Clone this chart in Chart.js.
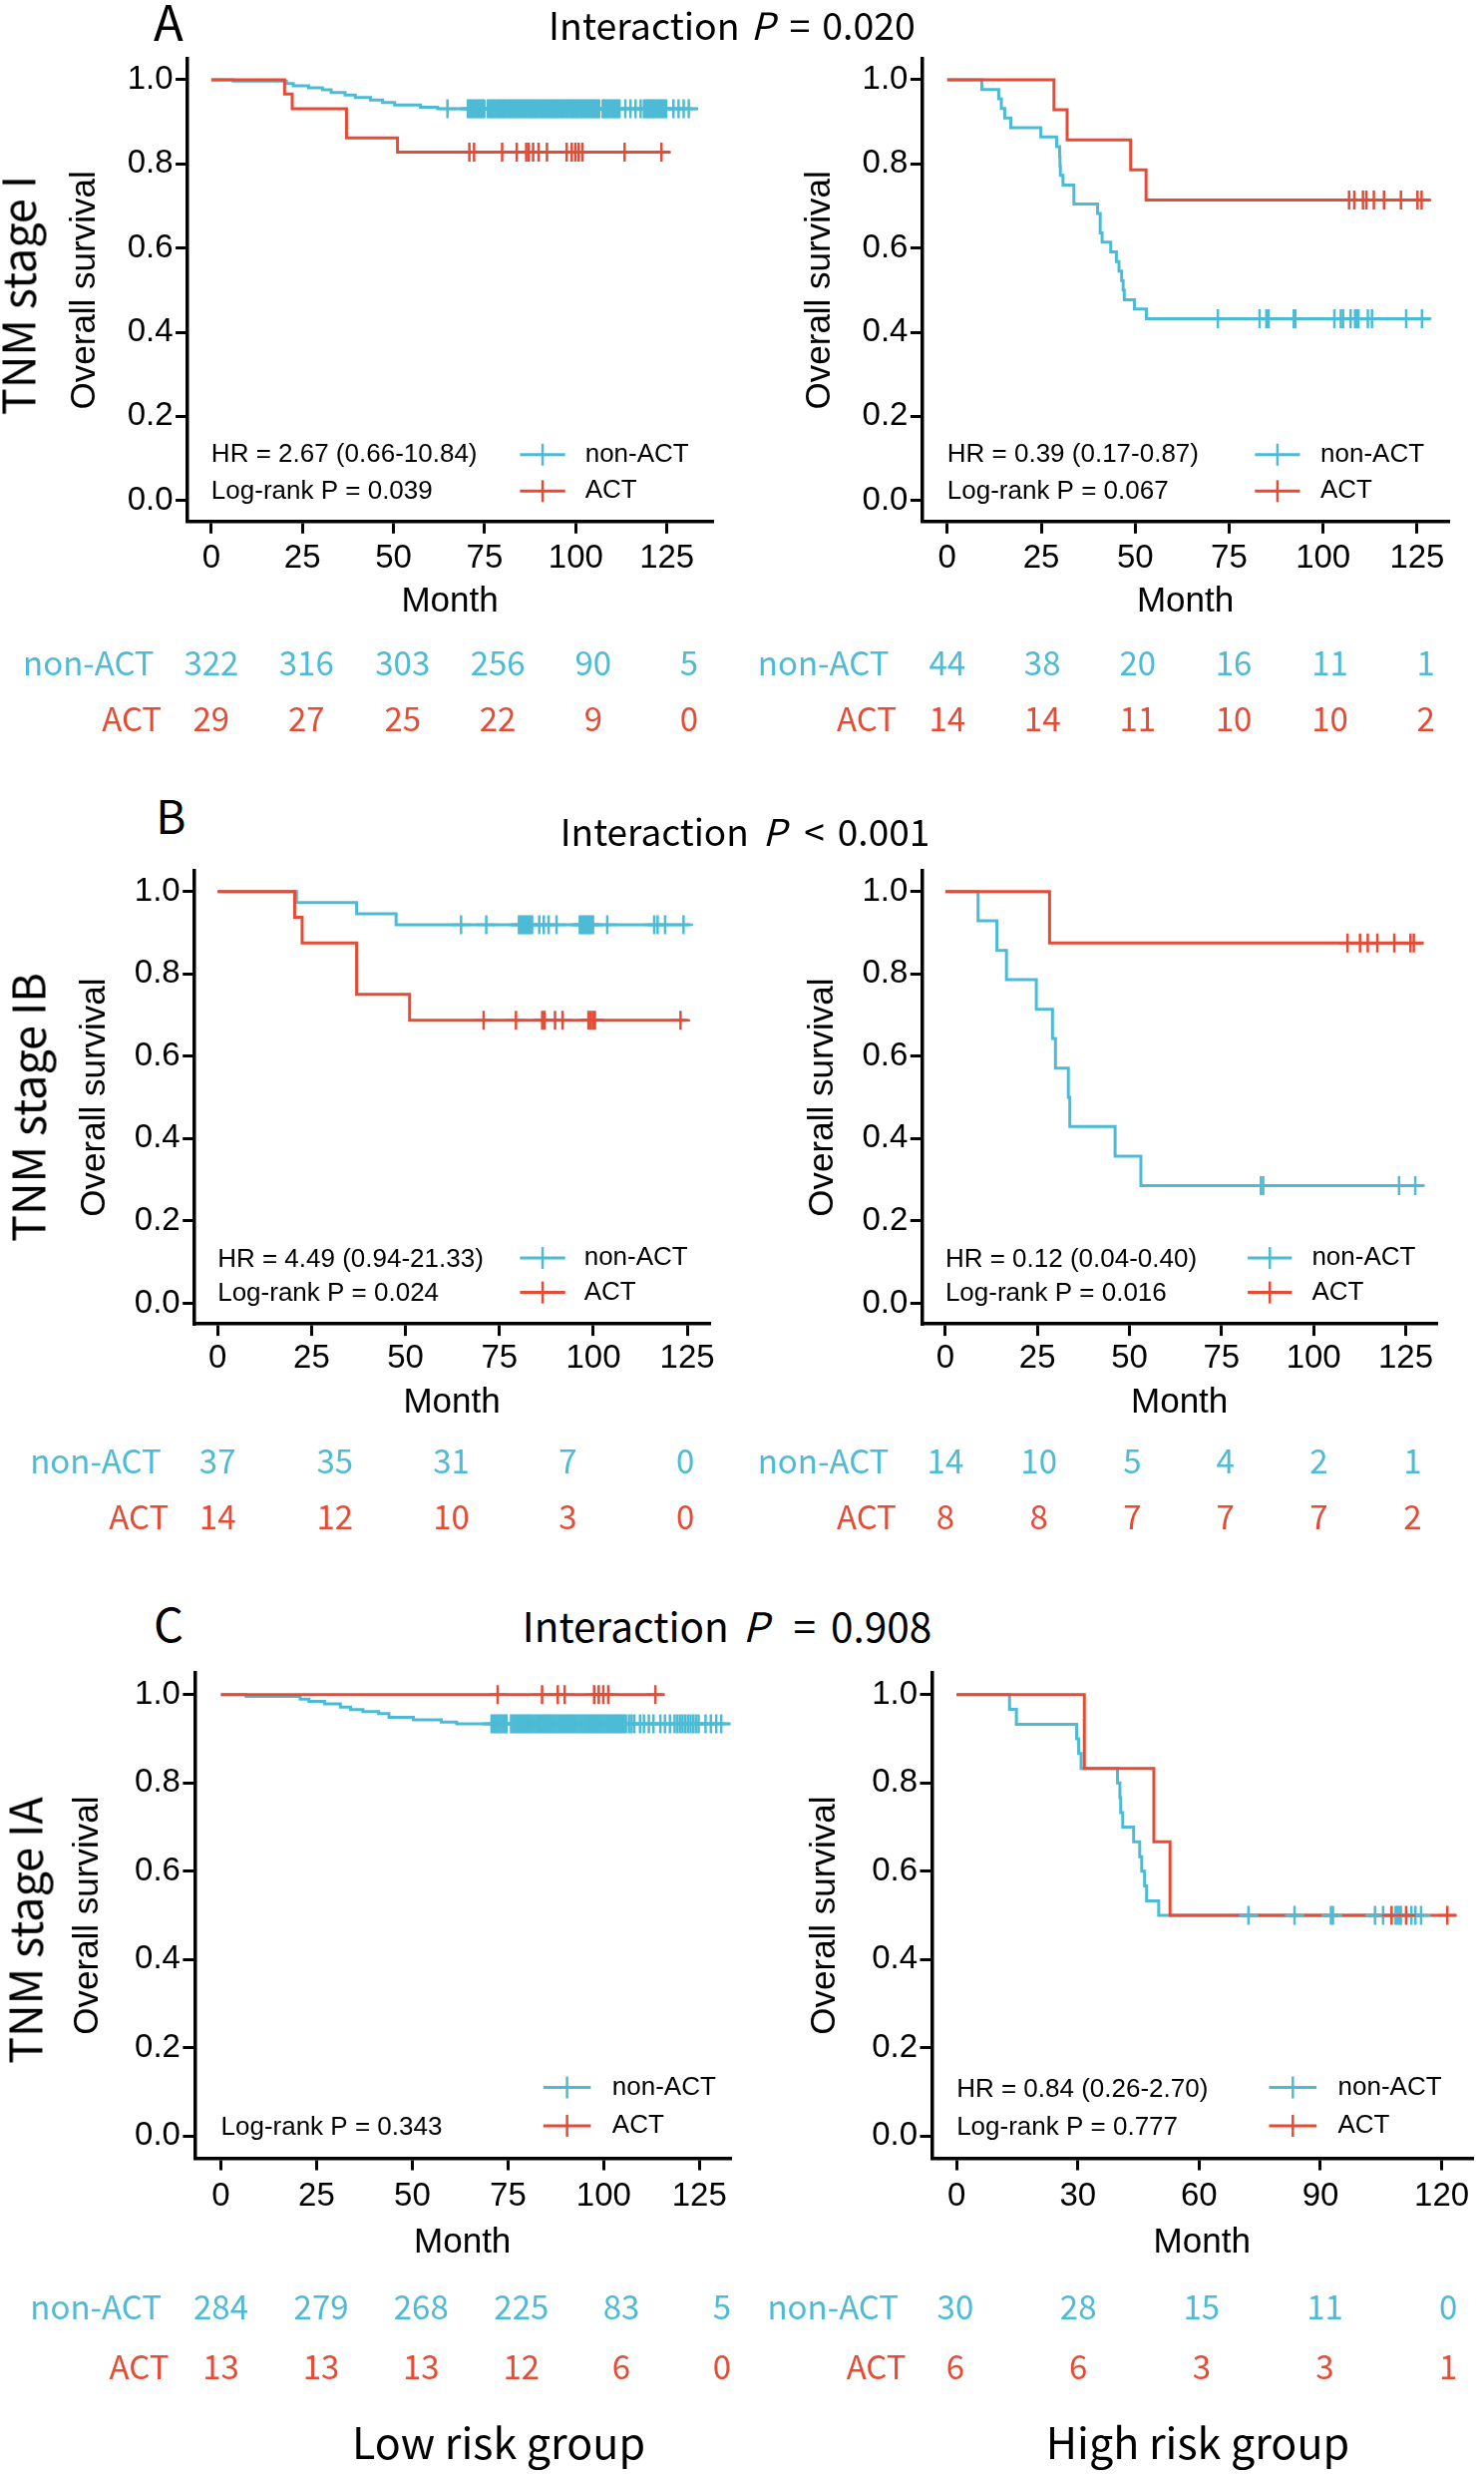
<!DOCTYPE html>
<html>
<head>
<meta charset="utf-8">
<script src="https://cdn.jsdelivr.net/npm/chart.js@4.4.0/dist/chart.umd.min.js"></script>
<style>
  html, body { margin: 0; padding: 0; background: #fff; }
  #page { position: relative; width: 1488px; height: 2480px; overflow: hidden; background: #fff; }
  canvas { position: absolute; }
  .lbl { position: absolute; font-family: 'Noto Sans CJK SC', 'Noto Sans', sans-serif; color: #000; line-height: 1; white-space: pre; }
  .lbl i { display: inline-block; }
  .lbl span { display: inline-block; }
</style>
</head>
<body>
<div id="page"></div>
<script>
const BLUE = '#4DBBD5';
const RED = '#E64B35';

const ticks125 = [0, 25, 50, 75, 100, 125];
const ticks120 = [0, 30, 60, 90, 120];
const yTicks = [0, 0.2, 0.4, 0.6, 0.8, 1.0];

// A - low risk (TNM stage I)
const aLowNonActT = [0, 6.0, 20.6, 22.5, 26.7, 30.5, 32.9, 36.7, 39.5, 43.7, 47.0, 50.3, 57.4, 62.1, 133.4];
const aLowNonActS = [1, 0.997, 0.991, 0.986, 0.981, 0.976, 0.970, 0.964, 0.958, 0.952, 0.946, 0.940, 0.935, 0.931, 0.931];
const aLowNonActC = [64.8,
  70.4, 70.9, 71.4, 71.9, 72.4, 72.9, 73.4, 73.9, 74.4, 74.9,
  75.9, 76.4, 76.9, 77.4, 77.9, 78.4, 78.9, 79.4, 79.9, 80.4, 80.9, 81.4, 81.9, 82.4, 82.9, 83.4, 83.9, 84.4,
  84.9, 85.4, 85.9, 86.4, 86.9, 87.4, 87.9, 88.4, 88.9, 89.4, 89.9, 90.4, 90.9, 91.4, 91.9, 92.4, 92.9, 93.4,
  93.9, 94.4, 94.9, 95.4, 95.9, 96.4, 96.9, 97.4, 97.9, 98.4, 98.9, 99.4, 99.9, 100.4, 100.9, 101.4, 101.9,
  102.4, 102.9, 103.4, 103.9, 104.4, 104.9, 105.4, 105.9, 106.4,
  107.4, 107.9, 108.4, 108.9, 109.4, 109.9, 110.4, 110.9, 111.4, 112.0,
  113.6, 115.0, 116.4, 117.8,
  118.7, 119.2, 119.7, 120.2, 120.7, 121.2, 121.7, 122.2, 122.7, 123.2, 123.7, 124.2, 124.8,
  126.8, 128.2, 129.6, 131.0];
const aLowActT = [0, 20.1, 22.2, 37.1, 51.1, 125.8];
const aLowActS = [1, 0.966, 0.931, 0.862, 0.828, 0.828];
const aLowActC = [70.8, 72.1, 79.8, 83.8, 86.4, 87.1, 88.3, 89.8, 92.1, 97.5, 98.9, 99.9, 100.8, 101.8, 113.4, 123.5];
const aLowRiskAt = [0, 26.1, 52.5, 78.6, 104.8, 131.1];
const aLowRiskNonAct = [322, 316, 303, 256, 90, 5];
const aLowRiskAct = [29, 27, 25, 22, 9, 0];

// A - high risk
const aHighNonActT = [0, 9.2, 13.7, 14.4, 15.3, 16.9, 24.9, 29.1, 29.9, 30.0, 30.1, 30.8, 33.7, 40.0, 40.7, 41.2, 43.5, 45.0, 45.7, 46.4, 46.8, 47.1, 49.8, 53.0, 128.4];
const aHighNonActS = [1, 0.977, 0.955, 0.932, 0.909, 0.886, 0.864, 0.841, 0.818, 0.795, 0.773, 0.750, 0.705, 0.682, 0.636, 0.614, 0.591, 0.568, 0.545, 0.523, 0.500, 0.477, 0.455, 0.432, 0.432];
const aHighNonActC = [72.0, 83.1, 84.9, 85.5, 92.2, 92.6, 103.0, 104.7, 105.3, 107.3, 108.5, 109.1, 109.4, 111.9, 113.0, 122.1, 126.3];
const aHighActT = [0, 28.4, 31.9, 48.8, 52.9, 128.4];
const aHighActS = [1, 0.929, 0.857, 0.786, 0.714, 0.714];
const aHighActC = [106.9, 108.3, 110.6, 111.5, 113.5, 116.2, 120.7, 125.1, 126.2];
const aHighRiskAt = [0, 25.3, 50.7, 76.2, 101.8, 127.3];
const aHighRiskNonAct = [44, 38, 20, 16, 11, 1];
const aHighRiskAct = [14, 14, 11, 10, 10, 2];

// B - low risk (TNM stage IB)
const bLowNonActT = [0, 21.0, 37.0, 47.5, 125.7];
const bLowNonActS = [1, 0.973, 0.946, 0.919, 0.919];
const bLowNonActC = [64.8, 71.5, 80.2, 80.7, 81.2, 81.7, 82.2, 82.7, 83.2, 83.7, 85.6, 86.8, 88.1, 90.2,
  96.4, 96.9, 97.4, 97.9, 98.4, 98.9, 99.4, 99.9, 103.7, 116.2, 117.1, 119.1, 124.0];
const bLowActT = [0, 20.5, 22.5, 37.0, 51.1, 125.0];
const bLowActS = [1, 0.9375, 0.875, 0.75, 0.6875, 0.6875];
const bLowActC = [70.8, 79.4, 86.4, 87.0, 89.8, 91.8, 98.7, 99.3, 99.9, 100.4, 123.2];
const bLowRiskAt = [0, 31.2, 62.2, 93.2, 124.5];
const bLowRiskNonAct = [37, 35, 31, 7, 0];
const bLowRiskAct = [14, 12, 10, 3, 0];

// B - high risk
const bHighNonActT = [0, 8.9, 14.0, 16.6, 24.7, 29.1, 29.9, 33.4, 33.8, 46.1, 53.1, 129.9];
const bHighNonActS = [1, 0.929, 0.857, 0.786, 0.714, 0.643, 0.571, 0.5, 0.429, 0.357, 0.286, 0.286];
const bHighNonActC = [85.7, 86.3, 123.2, 127.6];
const bHighActT = [0, 28.3, 129.9];
const bHighActS = [1, 0.875, 0.875];
const bHighActC = [109.2, 112.6, 114.7, 117.3, 121.9, 126.3, 127.2];
const bHighRiskAt = [0, 25.4, 50.8, 76.0, 101.4, 126.9];
const bHighRiskNonAct = [14, 10, 5, 4, 2, 1];
const bHighRiskAct = [8, 8, 7, 7, 7, 2];

// C - low risk (TNM stage IA)
const cLowNonActT = [0, 6.6, 20.7, 23.0, 27.1, 31.2, 33.9, 37.1, 41.2, 43.9, 50.3, 57.6, 61.6, 133.0];
const cLowNonActS = [1, 0.9965, 0.990, 0.985, 0.979, 0.972, 0.966, 0.962, 0.957, 0.949, 0.943, 0.938, 0.934, 0.934];
const cLowNonActC = [70.7, 71.2, 71.7, 72.2, 72.7, 73.2, 73.7, 74.2, 74.6,
  75.8, 76.3, 76.8, 77.3, 77.8, 78.3, 78.8, 79.3, 79.8, 80.3, 80.8, 81.3, 81.8, 82.3, 82.8, 83.3, 83.8, 84.3,
  84.8, 85.3, 85.8, 86.3, 86.8, 87.3, 87.8, 88.3, 88.8, 89.3, 89.8, 90.3, 90.8, 91.3, 91.8, 92.3, 92.8, 93.3,
  93.8, 94.3, 94.8, 95.3, 95.8, 96.3, 96.8, 97.3, 97.8, 98.3, 98.8, 99.3, 99.8, 100.3, 100.8, 101.3, 101.8,
  102.3, 102.8, 103.3, 103.8, 104.3, 104.8, 105.3, 105.8,
  106.6, 107.3, 108.0, 109.5, 110.5, 111.8, 113.0, 114.8, 116.0, 117.3,
  118.5, 119.2, 119.9, 120.6, 121.3, 122.0, 122.7, 123.4, 124.1, 124.8,
  126.6, 128.0, 129.4, 130.7];
const cLowActT = [0, 115.7];
const cLowActS = [1, 1];
const cLowActC = [72.3, 83.9, 88.0, 89.8, 97.5, 98.7, 99.9, 101.2, 113.5];
const cLowRiskAt = [0, 26.2, 52.3, 78.5, 104.6, 130.9];
const cLowRiskNonAct = [284, 279, 268, 225, 83, 5];
const cLowRiskAct = [13, 13, 13, 12, 6, 0];

// C - high risk
const cHighNonActT = [0, 13.1, 14.8, 29.7, 30.2, 30.8, 39.8, 40.4, 40.6, 41.1, 43.8, 45.3, 45.8, 46.5, 47.0, 50.0, 114.9];
const cHighNonActS = [1, 0.967, 0.933, 0.9, 0.867, 0.833, 0.8, 0.767, 0.733, 0.7, 0.667, 0.633, 0.6, 0.567, 0.533, 0.5, 0.5];
const cHighNonActC = [72.2, 83.6, 92.6, 93.1, 103.5, 105.5, 108.6, 109.0, 109.5, 109.9, 112.5, 113.5, 114.9];
const cHighActT = [0, 31.6, 48.8, 52.8, 123.5];
const cHighActS = [1, 0.833, 0.667, 0.5, 0.5];
const cHighActC = [107.6, 111.2, 121.4];
const cHighRiskAt = [-0.3, 30.1, 60.6, 91.1, 121.6];
const cHighRiskNonAct = [30, 28, 15, 11, 0];
const cHighRiskAct = [6, 6, 3, 3, 1];

const page = document.getElementById('page');
const AXIS_TITLE = 35;

const panels = [
  { box: {x: 0, y: 40, w: 744, h: 720}, area: {l: 188.1, r: 714.0, t: 58.9, b: 522.8},
    yTitleX: 85.5, xTitleY: 603, xMin: -6.5, xMax: 137.4, xTicks: ticks125, tickPad: 8.2,
    nonAct: [aLowNonActT, aLowNonActS, aLowNonActC], act: [aLowActT, aLowActS, aLowActC],
    stats: ['HR = 2.67 (0.66-10.84)', 'Log-rank P = 0.039'], statRows: [-67, -30],
    legX: [-192.6, -147.3, -127.3], legRows: [-67, -30.5],
    riskAt: aLowRiskAt, riskNonAct: aLowRiskNonAct, riskAct: aLowRiskAct, riskRows: [141.2, 197.2] },
  { box: {x: 744, y: 40, w: 744, h: 720}, area: {l: 924.9, r: 1452.2, t: 58.9, b: 522.8},
    yTitleX: 822.6, xTitleY: 603.5, xMin: -6.6, xMax: 133.3, xTicks: ticks125, tickPad: 8.2,
    nonAct: [aHighNonActT, aHighNonActS, aHighNonActC], act: [aHighActT, aHighActS, aHighActC],
    stats: ['HR = 0.39 (0.17-0.87)', 'Log-rank P = 0.067'], statRows: [-67, -30],
    legX: [-193.9, -148.7, -128.2], legRows: [-67, -30.5],
    riskAt: aHighRiskAt, riskNonAct: aHighRiskNonAct, riskAct: aHighRiskAct, riskRows: [141.2, 197.2] },
  { box: {x: 0, y: 850, w: 744, h: 710}, area: {l: 195.2, r: 711.0, t: 873, b: 1327.1},
    yTitleX: 95.2, xTitleY: 1406, xMin: -6.1, xMax: 130.8, xTicks: ticks125, tickPad: 6.2,
    nonAct: [bLowNonActT, bLowNonActS, bLowNonActC], act: [bLowActT, bLowActS, bLowActC],
    stats: ['HR = 4.49 (0.94-21.33)', 'Log-rank P = 0.024'], statRows: [-64, -30],
    legX: [-189.6, -144.3, -125.3], legRows: [-66, -31.5],
    riskAt: bLowRiskAt, riskNonAct: bLowRiskNonAct, riskAct: bLowRiskAct, riskRows: [136.9, 192.9] },
  { box: {x: 744, y: 850, w: 744, h: 710}, area: {l: 924.8, r: 1440.5, t: 873, b: 1327.1},
    yTitleX: 825, xTitleY: 1406, xMin: -6.25, xMax: 133.4, xTicks: ticks125, tickPad: 6.2,
    nonAct: [bHighNonActT, bHighNonActS, bHighNonActC], act: [bHighActT, bHighActS, bHighActC],
    stats: ['HR = 0.12 (0.04-0.40)', 'Log-rank P = 0.016'], statRows: [-64, -30],
    legX: [-189.4, -145.1, -125.1], legRows: [-66, -31.5],
    riskAt: bHighRiskAt, riskNonAct: bHighRiskNonAct, riskAct: bHighRiskAct, riskRows: [136.9, 192.9] },
  { box: {x: 0, y: 1660, w: 744, h: 760}, area: {l: 195.4, r: 733.9, t: 1676.7, b: 2163.5},
    yTitleX: 88.1, xTitleY: 2248.8, xMin: -6.8, xMax: 133, xTicks: ticks125, tickPad: 10.3,
    nonAct: [cLowNonActT, cLowNonActS, cLowNonActC], act: [cLowActT, cLowActS, cLowActC],
    stats: ['Log-rank P = 0.343'], statRows: [-31],
    legX: [-187.2, -139.6, -118.2], legRows: [-71, -32.5],
    riskAt: cLowRiskAt, riskNonAct: cLowRiskNonAct, riskAct: cLowRiskAct, riskRows: [148.5, 208.5] },
  { box: {x: 744, y: 1660, w: 744, h: 760}, area: {l: 934.5, r: 1488, t: 1676.7, b: 2163.5},
    yTitleX: 827.3, xTitleY: 2248.8, xMin: -6.08, xMax: 127.5, xTicks: ticks120, tickPad: 10.3,
    nonAct: [cHighNonActT, cHighNonActS, cHighNonActC], act: [cHighActT, cHighActS, cHighActC],
    stats: ['HR = 0.84 (0.26-2.70)', 'Log-rank P = 0.777'], statRows: [-68.6, -30.7],
    legX: [-203.5, -155.9, -134.5], legRows: [-71, -32.5],
    riskAt: cHighRiskAt, riskNonAct: cHighRiskNonAct, riskAct: cHighRiskAct, riskRows: [148.5, 208.5] }
];

const survAt = (t, s, time) => {
  let v = s[0];
  t.forEach((tt, i) => { if (tt <= time) v = s[i]; });
  return v;
};

const curve = ([t, s], color) => ({
  data: t.map((x, i) => ({x, y: s[i]})),
  showLine: true, stepped: true, borderColor: color, borderWidth: 3,
  pointRadius: 0, clip: false
});

const marks = ([t, s, c], color) => ({
  data: c.map(x => ({x, y: survAt(t, s, x)})),
  showLine: false, pointStyle: 'cross', pointRadius: 9.5,
  borderColor: color, pointBorderColor: color, pointBorderWidth: 2.5, clip: false
});

const extras = (p) => ({
  id: 'extras',
  afterDraw(chart) {
    const {ctx, chartArea: ca, scales: {x}} = chart;
    ctx.save();
    ctx.textBaseline = 'middle';
    ctx.font = '26px "Liberation Sans", Arial, sans-serif';
    ctx.fillStyle = '#000';
    ctx.textAlign = 'left';
    const x0 = x.getPixelForValue(0);
    p.stats.forEach((txt, i) => ctx.fillText(txt, x0, ca.bottom + p.statRows[i]));

    [[BLUE, 'non-ACT'], [RED, 'ACT']].forEach(([col, name], i) => {
      const y = ca.bottom + p.legRows[i];
      const a = ca.right + p.legX[0], b = ca.right + p.legX[1];
      ctx.strokeStyle = col;
      ctx.lineWidth = 3;
      ctx.beginPath(); ctx.moveTo(a, y); ctx.lineTo(b, y); ctx.stroke();
      ctx.lineWidth = 2.5;
      ctx.beginPath(); ctx.moveTo((a + b) / 2, y - 11); ctx.lineTo((a + b) / 2, y + 11); ctx.stroke();
      ctx.fillStyle = '#000';
      ctx.fillText(name, ca.right + p.legX[2], y);
    });

    ctx.font = '33px "Noto Sans CJK SC", "Noto Sans", sans-serif';
    [[BLUE, 'non-ACT', p.riskNonAct, -33.5], [RED, 'ACT', p.riskAct, -26]].forEach(([col, name, vals, dx], i) => {
      const y = ca.bottom + p.riskRows[i];
      ctx.fillStyle = col;
      ctx.textAlign = 'right';
      ctx.fillText(name, ca.left + dx, y);
      ctx.textAlign = 'center';
      vals.forEach((v, j) => ctx.fillText(String(v), x.getPixelForValue(p.riskAt[j]), y));
    });
    ctx.restore();
  }
});

const buildPanel = (p) => {
  const canvas = document.createElement('canvas');
  canvas.width = p.box.w;
  canvas.height = p.box.h;
  canvas.style.left = p.box.x + 'px';
  canvas.style.top = p.box.y + 'px';
  page.appendChild(canvas);

  const yScaleLeft = p.yTitleX - AXIS_TITLE / 2;
  const yWidth = p.area.l - yScaleLeft;
  const xScaleBottom = p.xTitleY + AXIS_TITLE / 2;
  const xHeight = xScaleBottom - p.area.b;
  const tickFont = {family: '"Liberation Sans", Arial, sans-serif', size: 33, lineHeight: 1};
  const titleFont = {family: '"Liberation Sans", Arial, sans-serif', size: AXIS_TITLE, lineHeight: 1};
  const grid = {display: true, drawOnChartArea: false, drawTicks: true, tickLength: 12, color: '#000', lineWidth: 3};
  const border = {display: true, color: '#000', width: 3.5};

  new Chart(canvas, {
    type: 'scatter',
    data: {
      datasets: [
        marks(p.act, RED),
        marks(p.nonAct, BLUE),
        curve(p.act, RED),
        curve(p.nonAct, BLUE)
      ]
    },
    options: {
      responsive: false,
      animation: false,
      devicePixelRatio: 1,
      layout: {
        padding: {
          left: yScaleLeft - p.box.x,
          top: p.area.t - p.box.y,
          right: p.box.x + p.box.w - p.area.r,
          bottom: p.box.y + p.box.h - xScaleBottom
        }
      },
      plugins: { legend: {display: false}, tooltip: {enabled: false} },
      scales: {
        x: {
          type: 'linear', min: p.xMin, max: p.xMax,
          afterBuildTicks: s => { s.ticks = p.xTicks.map(v => ({value: v})); },
          afterFit: s => { s.height = xHeight; s.paddingLeft = 0; s.paddingRight = 0; },
          ticks: {color: '#000', font: tickFont, padding: p.tickPad, maxRotation: 0, autoSkip: false},
          grid, border,
          title: {display: true, text: 'Month', color: '#000', font: titleFont, padding: 0}
        },
        y: {
          type: 'linear', min: -0.05, max: 1.05,
          afterBuildTicks: s => { s.ticks = yTicks.map(v => ({value: v})); },
          afterFit: s => { s.width = yWidth; s.paddingTop = 0; s.paddingBottom = 0; },
          ticks: {color: '#000', font: tickFont, padding: 2.5, callback: v => v.toFixed(1)},
          grid, border,
          title: {display: true, text: 'Overall survival', color: '#000', font: titleFont, padding: 0}
        }
      }
    },
    plugins: [extras(p)]
  });
};

panels.forEach(buildPanel);

// outer labels
const outerLabels = [
  {html: 'A', x: 169, y: 23, size: 49},
  {html: 'Interaction<i style="margin:0 15px 0 11px">P</i>=<span style="margin-left:12px">0.020</span>', x: 734, y: 26.7, size: 37.5},
  {html: 'B', x: 171.4, y: 819.4, size: 46},
  {html: 'Interaction<i style="margin:0 18px 0 14px">P</i>&lt;<span style="margin-left:13px">0.001</span>', x: 747, y: 835, size: 37},
  {html: 'C', x: 169, y: 1628.8, size: 47},
  {html: 'Interaction<i style="margin:0 25px 0 14px">P</i>=<span style="margin-left:15px">0.908</span>', x: 729, y: 1631.7, size: 40.5},
  {html: 'TNM stage I', x: 16, y: 296, size: 45, rot: true},
  {html: 'TNM stage IB', x: 25.6, y: 1110, size: 45, rot: true},
  {html: 'TNM stage IA', x: 23, y: 1934.5, size: 45, rot: true},
  {html: 'Low risk group', x: 500, y: 2449.7, size: 43},
  {html: 'High risk group', x: 1201, y: 2449.7, size: 43}
];

outerLabels.forEach(l => {
  const d = document.createElement('div');
  d.className = 'lbl';
  d.innerHTML = l.html;
  d.style.fontSize = l.size + 'px';
  d.style.left = l.x + 'px';
  if (l.rot) {
    d.style.top = l.y + 'px';
    d.style.transform = 'translate(-50%, -50%) rotate(-90deg)';
  } else {
    d.style.top = (l.y - 0.57 * l.size) + 'px';
    d.style.transform = 'translateX(-50%)';
  }
  page.appendChild(d);
});
</script>
</body>
</html>
